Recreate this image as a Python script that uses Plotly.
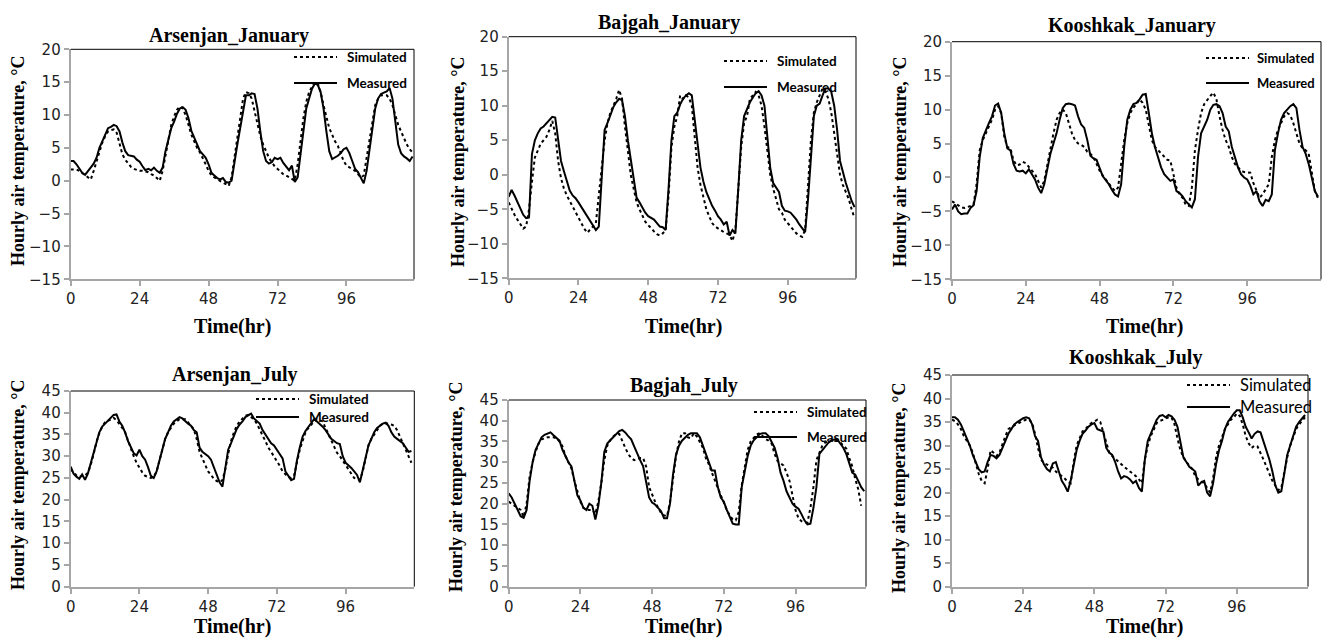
import plotly.graph_objects as go

W, H = 1323, 640

# ---------------- data (hourly, 0..119 h) ----------------
titles = ["Arsenjan_January", "Bajgah_January", "Kooshkak_January",
          "Arsenjan_July", "Bagjah_July", "Kooshkak_July"]
series_names = ["Simulated", "Measured"]
x_ticks = [0, 24, 48, 72, 96]

ars_jan_sim = [1.7, 1.7, 1.7, 1.5, 1.2, 0.8, 0.5, 0.2, 1.5, 3.0, 4.5, 5.8, 6.8, 7.5, 7.7, 7.8, 7.3, 5.5, 4.0, 3.2,
               2.6, 2.1, 1.8, 1.6, 1.5, 1.5, 1.4, 1.3, 1.0, 0.8, 0.4, 0.0, 1.5, 4.0, 6.5, 8.5, 9.8, 10.8, 11.3, 11.0,
               10.0, 8.5, 7.0, 6.0, 5.0, 4.3, 3.5, 2.5, 1.5, 0.8, 0.5, 0.2, 0.0, -0.3, -0.5, -0.8, 0.5, 3.5, 7.0, 10.0,
               12.5, 13.5, 13.3, 12.5, 10.5, 8.5, 6.8, 5.5, 4.5, 3.5, 2.8, 2.2, 1.8, 1.4, 1.0, 0.8, 0.5, 0.3, 0.0, 2.5,
               6.0, 9.5, 12.0, 13.5, 14.3, 15.0, 14.8, 13.5, 11.5, 9.5, 8.0, 7.0, 6.0, 5.3, 4.2, 3.0, 2.3, 2.0, 1.8, 1.5,
               1.0, 0.5, 0.8, 3.5, 6.5, 9.5, 11.5, 12.5, 13.0, 13.0, 13.0, 12.5, 11.5, 10.0, 8.5, 7.5, 6.5, 5.5, 4.8, 4.3]
ars_jan_meas = [3.0, 3.0, 2.5, 1.8, 1.2, 0.9, 1.5, 2.0, 2.6, 3.5, 5.0, 6.0, 7.0, 8.0, 8.2, 8.5, 8.3, 7.5, 5.8, 4.5,
                3.9, 3.8, 3.7, 3.2, 2.9, 2.2, 1.6, 1.8, 1.6, 2.0, 1.5, 1.2, 2.0, 4.5, 6.5, 8.0, 9.0, 10.2, 11.0, 11.2,
                10.8, 9.5, 7.6, 6.5, 5.5, 4.5, 4.0, 3.5, 2.5, 1.2, 0.8, 0.4, 0.2, 0.4, -0.2, -0.3, 0.0, 3.0, 5.5, 8.0,
                10.5, 13.0, 13.0, 13.3, 13.2, 11.0, 7.5, 4.5, 3.0, 2.6, 2.8, 3.5, 3.3, 3.5, 2.7, 2.2, 1.6, 2.3, -0.2, 0.5,
                4.0, 8.0, 11.0, 12.5, 14.0, 14.8, 14.6, 13.5, 11.0, 7.5, 4.5, 3.3, 3.5, 3.8, 4.2, 4.8, 5.0, 4.2, 3.0, 1.8,
                1.3, 0.5, -0.4, 1.5, 4.5, 8.0, 11.0, 12.5, 13.2, 13.4, 13.6, 14.1, 12.5, 9.0, 5.5, 4.2, 3.7, 3.4, 3.0, 3.7]

baj_jan_sim = [-4.0, -5.0, -5.8, -6.5, -7.2, -7.8, -7.5, -5.0, -1.0, 2.5, 3.5, 4.5, 5.0, 5.5, 6.5, 7.8, 6.0, 2.0, -0.5, -2.0,
               -3.0, -3.8, -4.5, -5.5, -6.2, -7.0, -7.8, -8.4, -8.0, -7.5, -7.0, -3.0, 1.0, 5.0, 7.5, 9.0, 10.0, 11.0, 12.3, 11.0,
               7.0, 3.0, 0.0, -2.0, -4.0, -5.0, -6.0, -6.8, -7.3, -7.8, -8.2, -8.6, -8.8, -8.5, -8.0, -3.0, 4.0, 7.0, 8.5, 11.5,
               11.0, 11.5, 11.2, 10.0, 6.0, 1.0, -1.5, -3.5, -5.0, -6.0, -7.0, -7.5, -7.8, -8.0, -8.3, -8.5, -8.7, -9.6, -8.0, -2.0,
               4.0, 7.5, 8.5, 11.0, 11.5, 12.0, 11.5, 10.0, 7.0, 3.5, 0.0, -2.0, -3.5, -5.0, -5.5, -6.5, -7.0, -7.5, -8.0, -8.5,
               -8.8, -9.0, -8.0, -1.0, 5.0, 9.0, 10.5, 11.5, 12.5, 12.0, 11.0, 9.0, 6.0, 3.0, 0.0, -1.5, -2.5, -3.5, -5.0, -6.3]
baj_jan_meas = [-3.2, -2.2, -3.0, -4.0, -5.0, -5.8, -6.3, -6.2, 3.0, 5.0, 6.0, 6.7, 7.0, 7.5, 8.0, 8.4, 8.3, 5.0, 2.0, 0.5,
                -1.0, -2.3, -3.0, -3.4, -4.0, -4.7, -5.3, -6.0, -6.8, -7.3, -8.0, -7.5, 0.0, 6.5, 7.5, 8.8, 9.8, 10.5, 11.0, 10.8,
                8.5, 5.0, 2.0, -1.0, -3.3, -4.0, -4.8, -5.5, -6.0, -6.2, -6.5, -7.0, -7.5, -7.6, -8.0, -2.0, 5.0, 8.5, 9.0, 10.2,
                11.0, 11.5, 11.8, 11.5, 8.0, 4.0, 1.0, -1.0, -2.5, -3.5, -4.5, -5.2, -6.0, -6.5, -7.2, -6.8, -8.8, -8.0, -8.5, -2.0,
                5.0, 8.5, 9.5, 10.5, 11.2, 11.8, 12.1, 11.5, 10.0, 6.0, 1.0, -1.2, -1.8, -2.5, -4.5, -5.2, -5.3, -5.5, -6.0, -6.5,
                -7.2, -7.8, -8.3, -3.5, 3.0, 8.5, 10.0, 10.3, 11.5, 12.5, 12.5, 12.0, 10.0, 6.5, 2.0, 0.3, -1.2, -2.5, -3.8, -4.7]

koo_jan_sim = [-3.5, -3.8, -4.1, -4.4, -4.5, -4.4, -4.2, -4.0, -1.0, 4.0, 5.5, 6.5, 7.5, 8.5, 10.0, 10.5, 9.5, 6.0, 4.5, 4.3,
               2.5, 1.8, 1.9, 2.3, 2.1, 1.5, 1.0, 0.5, -0.5, -1.5, -0.5, 2.0, 4.0, 6.5, 8.5, 9.5, 10.0, 9.5, 8.0, 6.5,
               5.5, 5.0, 4.8, 4.5, 3.8, 3.5, 3.0, 2.0, 1.0, 0.3, -0.3, -1.0, -1.5, -2.0, -1.5, 2.0, 5.5, 8.0, 9.5, 10.3,
               10.8, 11.5, 11.0, 10.0, 7.5, 5.5, 4.5, 4.0, 3.6, 3.0, 2.6, 2.5, 0.5, -1.5, -2.5, -3.0, -4.0, -4.2, -1.5, 4.0,
               7.0, 9.5, 10.8, 11.5, 12.0, 12.5, 11.5, 9.0, 7.0, 5.5, 4.5, 3.0, 2.0, 1.5, 1.0, 0.8, 0.8, 0.7, -0.8, -2.0,
               -3.0, -2.5, -1.8, -1.0, 3.0, 5.5, 7.0, 8.0, 9.0, 9.5, 9.2, 8.0, 6.5, 5.0, 4.3, 4.0, 3.5, 1.0, -2.0, -3.0]
koo_jan_meas = [-4.7, -4.0, -5.0, -5.4, -5.3, -5.3, -4.5, -4.1, -2.0, 3.0, 5.8, 7.0, 8.0, 9.0, 10.6, 10.9, 9.5, 6.5, 4.3, 4.0,
                2.0, 1.0, 0.9, 1.0, 0.6, 1.2, 0.4, -0.3, -1.5, -2.3, -1.0, 1.5, 3.5, 5.0, 6.5, 8.5, 10.2, 10.8, 10.9, 10.8,
                10.6, 9.0, 7.8, 7.3, 5.5, 3.2, 2.8, 2.6, 1.5, 0.2, -0.4, -1.0, -1.8, -2.5, -2.8, -1.0, 4.5, 8.5, 10.0, 10.8,
                11.0, 11.5, 12.2, 12.3, 9.5, 6.5, 4.5, 3.0, 1.5, 0.5, 0.0, -0.5, -0.3, -2.0, -2.3, -2.8, -3.5, -4.0, -4.4, -3.2,
                3.0, 6.5, 7.5, 8.5, 10.0, 10.7, 10.8, 10.5, 9.5, 7.5, 6.8, 4.5, 3.0, 1.5, 0.5, 0.0, -0.3, -1.2, -2.5, -2.0,
                -3.5, -4.2, -3.3, -3.5, -2.5, 4.0, 6.5, 8.5, 9.5, 10.0, 10.5, 10.8, 10.2, 7.0, 4.5, 3.5, 2.0, 0.0, -2.0, -2.8]

ars_jul_sim = [27.0, 26.2, 25.6, 25.3, 25.4, 25.6, 26.2, 28.0, 30.5, 33.3, 35.3, 36.8, 37.8, 38.2, 38.5, 38.8, 38.3, 37.5, 36.5, 35.5,
               33.5, 31.5, 30.0, 28.5, 27.3, 26.3, 25.5, 25.2, 25.0, 25.3, 26.5, 29.0, 31.5, 34.0, 35.5, 36.5, 37.5, 38.0, 38.5, 38.5,
               38.5, 37.8, 37.0, 36.2, 34.0, 31.0, 29.5, 27.8, 26.5, 25.7, 24.8, 24.3, 24.0, 24.5, 27.0, 30.5, 33.5, 35.5, 37.0, 38.0,
               38.7, 39.3, 39.5, 39.0, 38.5, 37.5, 36.0, 34.8, 33.5, 32.0, 31.0, 30.0, 29.0, 27.8, 26.5, 25.8, 25.2, 25.0, 25.5, 28.5,
               31.5, 33.5, 35.5, 36.5, 37.3, 38.0, 38.5, 38.3, 38.0, 36.5, 35.0, 33.5, 32.0, 30.8, 30.0, 29.0, 28.0, 27.0, 25.8, 25.0,
               24.7, 24.6, 26.5, 29.5, 32.5, 34.0, 35.0, 36.0, 37.0, 37.5, 37.5, 37.5, 37.3, 37.0, 36.0, 34.5, 33.0, 31.5, 30.0, 28.5]
ars_jul_meas = [27.6, 26.0, 25.3, 24.8, 25.8, 24.6, 26.0, 28.5, 30.5, 33.0, 35.5, 36.8, 37.5, 38.2, 38.8, 39.5, 39.6, 38.0, 37.0, 35.5,
                33.5, 32.0, 30.7, 30.2, 31.5, 30.0, 29.2, 27.5, 25.5, 25.0, 26.5, 29.0, 31.5, 34.0, 35.5, 37.0, 38.0, 38.5, 39.0, 38.7,
                38.0, 37.5, 37.0, 36.0, 35.5, 32.0, 31.0, 30.6, 30.0, 29.2, 27.5, 25.5, 24.0, 23.0, 27.0, 31.5, 33.0, 34.8, 36.3, 37.3,
                38.0, 39.0, 39.5, 39.8, 38.7, 38.0, 37.5, 36.0, 35.0, 34.0, 33.0, 32.5, 31.5, 30.5, 29.5, 26.5, 25.5, 24.5, 24.8, 29.0,
                32.0, 34.5, 35.8, 36.7, 37.5, 38.5, 38.0, 37.5, 36.8, 36.0, 35.0, 34.0, 33.5, 33.0, 32.8, 30.0, 28.5, 28.0, 27.3, 26.5,
                25.7, 24.0, 27.0, 30.0, 32.5, 34.0, 35.5, 36.5, 37.0, 37.5, 37.7, 37.0, 35.5, 34.5, 34.0, 33.5, 33.0, 32.0, 31.0, 31.2]

bag_jul_sim = [20.5, 20.0, 19.5, 19.2, 18.5, 16.8, 20.0, 26.5, 30.0, 32.5, 34.5, 35.5, 35.8, 36.0, 36.0, 36.0, 35.8, 35.0, 33.8, 31.5,
               30.0, 28.5, 25.5, 23.0, 20.5, 19.0, 18.6, 18.5, 18.5, 17.5, 20.5, 25.0, 30.5, 34.0, 35.3, 36.2, 36.8, 36.8, 35.0, 33.5,
               32.0, 31.0, 30.5, 30.7, 31.0, 31.0, 29.0, 24.0, 22.0, 20.5, 19.0, 17.8, 17.2, 17.0, 20.5, 26.5, 31.5, 35.0, 37.0, 37.0,
               36.0, 35.8, 37.0, 36.2, 35.0, 33.5, 31.0, 29.5, 27.5, 25.5, 24.0, 22.0, 20.3, 18.5, 17.2, 16.2, 16.0, 18.0, 24.5, 29.0,
               33.0, 35.0, 36.0, 36.7, 37.0, 36.2, 35.6, 35.2, 34.5, 32.0, 30.3, 29.8, 29.2, 27.5, 25.5, 22.0, 18.5, 16.5, 15.8, 15.5,
               15.5, 19.0, 24.0, 30.5, 32.5, 34.0, 34.8, 35.0, 35.2, 35.5, 35.2, 34.8, 34.0, 33.3, 31.0, 29.0, 26.0, 23.5, 19.5]
bag_jul_meas = [22.5, 21.5, 20.0, 18.5, 17.0, 16.6, 18.5, 25.5, 30.0, 33.0, 34.5, 36.0, 36.6, 37.0, 37.2, 36.5, 35.8, 35.2, 33.0, 31.5,
                30.0, 29.0, 25.0, 22.0, 20.8, 19.0, 18.5, 20.0, 19.5, 16.2, 19.5, 25.0, 32.5, 34.5, 35.3, 36.0, 36.8, 37.5, 37.8, 37.2,
                36.3, 35.5, 33.8, 32.0, 30.5, 29.0, 25.5, 21.5, 20.3, 19.8, 19.0, 18.2, 16.5, 16.5, 20.0, 27.0, 31.8, 34.0, 35.2, 36.0,
                36.6, 37.0, 37.0, 37.0, 36.0, 34.0, 32.5, 30.0, 28.0, 28.0, 24.0, 21.5, 20.5, 18.5, 17.0, 15.2, 15.0, 15.0, 24.0, 28.0,
                31.5, 34.0, 35.3, 36.0, 36.8, 37.0, 37.0, 36.3, 35.0, 33.5, 31.0, 27.5, 25.5, 23.0, 21.5, 20.0, 19.3, 18.8, 17.5, 16.0,
                15.0, 15.2, 19.0, 24.0, 32.0, 33.0, 34.0, 34.7, 35.2, 35.5, 35.5, 34.5, 33.5, 32.0, 30.0, 27.5, 27.0, 25.5, 24.0, 23.0]

koo_jul_sim = [35.5, 35.2, 34.5, 33.5, 32.0, 31.0, 30.0, 28.5, 26.0, 24.0, 22.5, 22.0, 25.0, 29.0, 28.5, 27.8, 28.5, 30.5, 32.0, 33.5,
               34.0, 34.3, 34.6, 35.0, 35.3, 35.5, 35.5, 34.8, 32.5, 29.5, 27.0, 26.3, 26.0, 25.7, 25.3, 24.5, 24.0, 23.5, 23.0, 22.3,
               22.0, 26.5, 30.0, 31.5, 33.0, 33.5, 34.3, 34.8, 35.2, 35.5, 35.0, 33.0, 30.5, 28.5, 27.8, 27.2, 26.5, 26.0, 25.5, 25.0,
               24.5, 24.0, 23.5, 22.8, 22.0, 27.0, 30.0, 32.0, 33.5, 34.8, 35.2, 35.5, 35.8, 36.0, 36.0, 34.5, 31.5, 29.0, 27.5, 26.5,
               25.7, 25.0, 23.5, 22.8, 22.3, 22.0, 21.0, 20.0, 23.0, 27.5, 30.0, 32.0, 33.5, 34.5, 35.5, 36.0, 36.8, 36.3, 34.5, 32.0,
               30.5, 29.5, 30.0, 29.8, 28.5, 27.0, 25.5, 24.0, 22.5, 21.5, 20.5, 21.0, 24.5, 27.5, 30.0, 32.0, 33.5, 34.5, 35.3, 36.0]
koo_jul_meas = [36.0, 36.0, 35.5, 34.5, 33.0, 31.5, 30.0, 28.0, 26.5, 25.0, 24.3, 24.5, 26.5, 28.0, 27.8, 27.3, 28.0, 29.5, 31.0, 32.5,
                33.5, 34.5, 35.0, 35.5, 35.8, 36.0, 35.8, 34.5, 32.0, 31.0, 27.5, 26.0, 25.0, 24.5, 26.2, 26.5, 24.5, 22.5, 21.5, 20.2,
                22.5, 26.0, 29.0, 31.0, 32.5, 33.2, 34.0, 34.5, 34.8, 33.5, 33.3, 33.0, 29.5, 28.5, 28.0, 26.5, 24.5, 23.0, 23.5, 23.3,
                22.8, 22.0, 22.5, 21.0, 20.2, 27.0, 31.0, 32.5, 34.0, 35.5, 36.3, 36.5, 36.0, 36.5, 36.2, 35.5, 34.0, 31.0, 27.5, 26.5,
                25.5, 25.0, 24.5, 21.5, 22.2, 22.5, 20.0, 19.2, 22.0, 26.0, 29.0, 31.0, 33.5, 35.0, 36.0, 36.8, 37.5, 37.5, 36.0, 34.0,
                32.8, 31.5, 32.5, 33.0, 32.8, 31.0, 29.0, 27.0, 24.5, 21.5, 20.0, 20.3, 24.0, 28.0, 30.0, 32.0, 34.0, 35.0, 35.8, 36.5]

sim_series = [ars_jan_sim, baj_jan_sim, koo_jan_sim, ars_jul_sim, bag_jul_sim, koo_jul_sim]
meas_series = [ars_jan_meas, baj_jan_meas, koo_jan_meas, ars_jul_meas, bag_jul_meas, koo_jul_meas]
y_ranges = [[-15, 20], [-15, 20], [-15, 20], [0, 45], [0, 45], [0, 45]]
x_max = [119.5, 119.5, 120, 120, 119.6, 120]

# ---------------- layout (pixel positions) ----------------
# plot area: left, right, top, bottom (px)
boxes = [(70.7, 414, 49.3, 279.3), (508.7, 856, 36.7, 278.3), (952, 1321, 41.7, 279.3),
         (70.7, 414.3, 391, 586.7), (508.7, 866, 400, 586.7), (952, 1308, 375, 586.7)]
title_pos = [(229, 35), (669, 22), (1132, 25), (235, 374), (684, 385), (1135, 357)]
ylab_pos = [(18, 161), (458, 162), (900, 162), (18, 485), (456, 487), (899, 488)]
xlab_pos = [(232, 326), (683, 326), (1144, 326), (232, 626), (683, 626), (1144, 626)]
# legend key: sample-line start x, first-row centre y, row gap, font size, bold, text gap
leg_pos = [(294, 57, 26, 13.5, True, 8), (724, 61, 26, 13.5, True, 8), (1206, 58, 25, 13, True, 6),
           (256, 399, 18, 13.5, True, 8), (754, 412, 25, 13.5, True, 8), (1187, 385, 22, 16.5, False, 8)]
KEY_LEN = 43


def px(x):
    return x / W


def py(y):
    return 1 - y / H


fig = go.Figure()
layout = dict(width=W, height=H, margin=dict(l=0, r=0, t=0, b=0, autoexpand=False),
              paper_bgcolor="white", plot_bgcolor="white", showlegend=False)
annotations = []
shapes = []

axis_gray = "#a6a6a6"
tick_font = dict(family="DejaVu Sans", size=15, color="#222222")
serif_bold = dict(family="Liberation Serif", size=20, color="black", weight="bold")
dashes = ["dot", "solid"]

for i in range(6):
    n = i + 1
    xa = "x" if n == 1 else f"x{n}"
    ya = "y" if n == 1 else f"y{n}"
    xkey = "xaxis" if n == 1 else f"xaxis{n}"
    ykey = "yaxis" if n == 1 else f"yaxis{n}"
    l, r, t, b = boxes[i]

    for vals, name, dash in zip([sim_series[i], meas_series[i]], series_names, dashes):
        fig.add_trace(go.Scatter(x=list(range(len(vals))), y=vals, mode="lines", name=name,
                                 line=dict(color="black", width=2, dash=dash),
                                 xaxis=xa, yaxis=ya))

    layout[xkey] = dict(domain=[px(l), px(r)], range=[0, x_max[i]], anchor=ya,
                        tickvals=x_ticks, ticks="outside", ticklen=5, tickcolor=axis_gray, tickwidth=1.5,
                        showline=True, linecolor=axis_gray, linewidth=2, showgrid=False, zeroline=False,
                        tickfont=tick_font, fixedrange=True, automargin=False)
    layout[ykey] = dict(domain=[py(b), py(t)], range=y_ranges[i], anchor=xa, dtick=5,
                        ticks="outside", ticklen=5, tickcolor=axis_gray, tickwidth=1.5,
                        showline=True, linecolor=axis_gray, linewidth=2, showgrid=False, zeroline=False,
                        tickfont=tick_font, fixedrange=True, automargin=False)

    # top and right frame lines (black)
    shapes.append(dict(type="line", xref=f"{xa} domain", yref=f"{ya} domain", x0=0, x1=1, y0=1, y1=1,
                       line=dict(color="black", width=1)))
    shapes.append(dict(type="line", xref=f"{xa} domain", yref=f"{ya} domain", x0=1, x1=1, y0=0, y1=1,
                       line=dict(color="black", width=1)))

    tx, ty = title_pos[i]
    annotations.append(dict(text=titles[i], x=px(tx), y=py(ty), xref="paper", yref="paper",
                            xanchor="center", yanchor="middle", showarrow=False, font=serif_bold))
    lx, lyy = ylab_pos[i]
    annotations.append(dict(text="Hourly air temperature, °C", x=px(lx), y=py(lyy), xref="paper", yref="paper",
                            xanchor="center", yanchor="middle", showarrow=False, textangle=-90,
                            font=dict(family="Liberation Serif", size=18, color="black", weight="bold")))
    xx, xy = xlab_pos[i]
    annotations.append(dict(text="Time(hr)", x=px(xx), y=py(xy), xref="paper", yref="paper",
                            xanchor="center", yanchor="middle", showarrow=False, font=serif_bold))

    # in-plot legend key
    sx, sy, gap, fs, bold, tgap = leg_pos[i]
    for k, (name, dash) in enumerate(zip(series_names, dashes)):
        yk = sy + k * gap
        shapes.append(dict(type="line", xref="paper", yref="paper",
                           x0=px(sx), x1=px(sx + KEY_LEN), y0=py(yk), y1=py(yk),
                           line=dict(color="black", width=2, dash=dash)))
        annotations.append(dict(text=name, x=px(sx + KEY_LEN + tgap), y=py(yk), xref="paper", yref="paper",
                                xanchor="left", yanchor="middle", showarrow=False,
                                font=dict(family="Lato", size=fs, color="black",
                                          weight="bold" if bold else "normal")))

layout["annotations"] = annotations
layout["shapes"] = shapes
fig.update_layout(**layout)
fig.write_html("out.html")
